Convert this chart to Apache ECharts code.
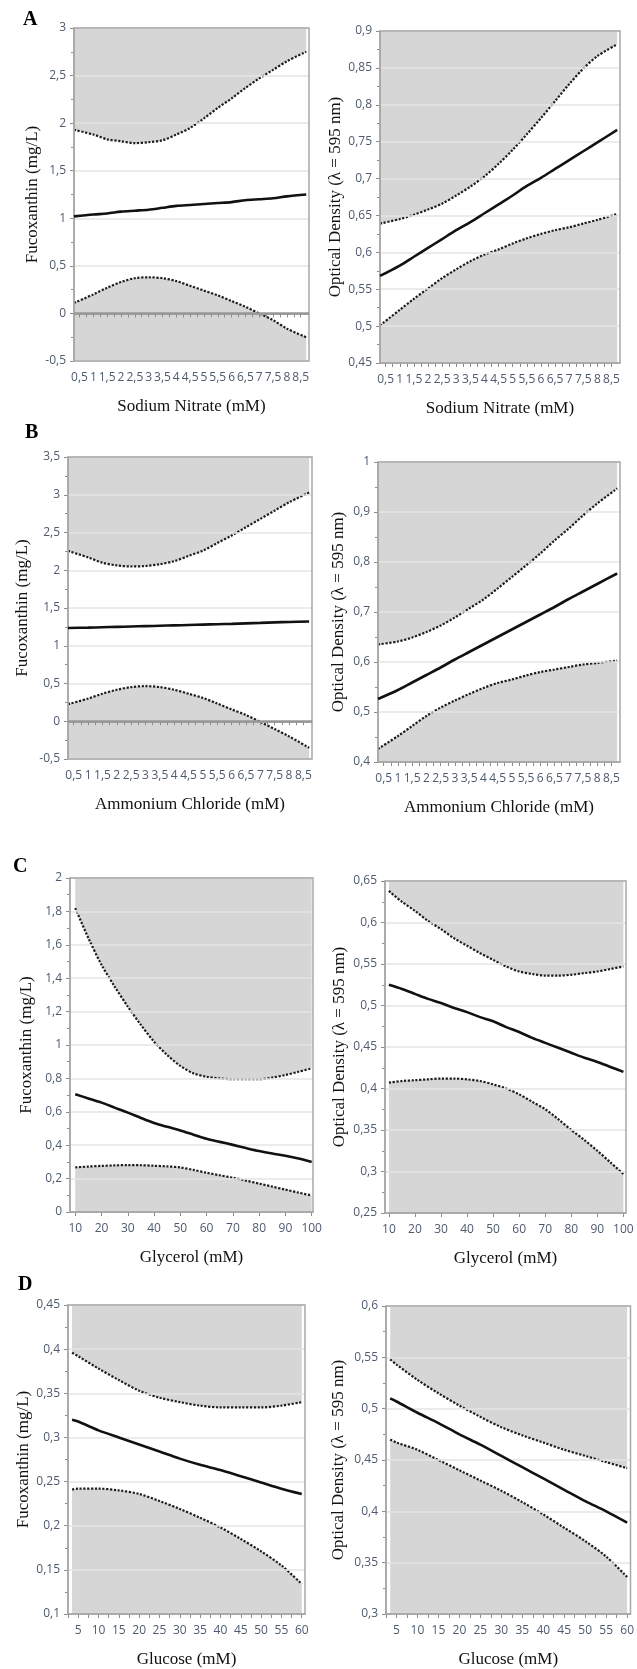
<!DOCTYPE html>
<html>
<head>
<meta charset="utf-8">
<script src="https://cdn.jsdelivr.net/npm/echarts@6/dist/echarts.min.js"></script>
<style>
  html, body { margin: 0; padding: 0; background: #fff; }
  #main { width: 637px; height: 1669px; }
</style>
</head>
<body>
<div id="main"></div>
<script>
// x values (mM)
const nitrateX = [0.3, 1, 1.5, 2, 2.5, 3, 3.5, 4, 4.5, 5, 5.5, 6, 6.5, 7, 7.5, 8, 8.7];
const glycerolX = [10, 15, 20, 25, 30, 35, 40, 45, 50, 55, 60, 65, 70, 75, 80, 85, 90, 95, 100];
const glucoseX = [3.5, 5, 10, 15, 20, 25, 30, 35, 40, 45, 50, 55, 60];

// tick labels / tick marks on the x axes
const nitrateLabels = [0.5, 1, 1.5, 2, 2.5, 3, 3.5, 4, 4.5, 5, 5.5, 6, 6.5, 7, 7.5, 8, 8.5];
const nitrateTicks = [0.5, 0.75, 1, 1.25, 1.5, 1.75, 2, 2.25, 2.5, 2.75, 3, 3.25, 3.5, 3.75, 4, 4.25, 4.5,
  4.75, 5, 5.25, 5.5, 5.75, 6, 6.25, 6.5, 6.75, 7, 7.25, 7.5, 7.75, 8, 8.25, 8.5];
const glycerolLabels = [10, 20, 30, 40, 50, 60, 70, 80, 90, 100];
const glucoseLabels = [5, 10, 15, 20, 25, 30, 35, 40, 45, 50, 55, 60];
const glucoseTicks = [2.5, 5, 7.5, 10, 12.5, 15, 17.5, 20, 22.5, 25, 27.5, 30, 32.5, 35, 37.5, 40, 42.5,
  45, 47.5, 50, 52.5, 55, 57.5, 60];

// A - Sodium Nitrate
const aFucoUpper = [1.93, 1.88, 1.83, 1.81, 1.79, 1.80, 1.82, 1.88, 1.95, 2.05, 2.16, 2.26, 2.37, 2.47, 2.56, 2.65, 2.75];
const aFucoMean  = [1.02, 1.04, 1.05, 1.07, 1.08, 1.09, 1.11, 1.13, 1.14, 1.15, 1.16, 1.17, 1.19, 1.20, 1.21, 1.23, 1.25];
const aFucoLower = [0.11, 0.20, 0.27, 0.33, 0.37, 0.38, 0.37, 0.34, 0.29, 0.24, 0.19, 0.13, 0.07, 0.00, -0.07, -0.16, -0.25];
const aOdUpper = [0.639, 0.645, 0.651, 0.658, 0.666, 0.677, 0.689, 0.703, 0.72, 0.739, 0.76, 0.782, 0.805, 0.828, 0.849, 0.866, 0.882];
const aOdMean  = [0.568, 0.582, 0.594, 0.606, 0.618, 0.63, 0.641, 0.653, 0.665, 0.677, 0.69, 0.701, 0.713, 0.725, 0.737, 0.749, 0.766];
const aOdLower = [0.501, 0.522, 0.537, 0.551, 0.565, 0.577, 0.588, 0.597, 0.604, 0.612, 0.619, 0.625, 0.63, 0.634, 0.639, 0.644, 0.652];

// B - Ammonium Chloride
const bFucoUpper = [2.256, 2.17, 2.1, 2.064, 2.05, 2.056, 2.08, 2.12, 2.19, 2.26, 2.36, 2.46, 2.57, 2.68, 2.79, 2.9, 3.03];
const bFucoMean  = [1.235, 1.24, 1.245, 1.25, 1.255, 1.26, 1.265, 1.27, 1.275, 1.28, 1.285, 1.29, 1.297, 1.303, 1.31, 1.315, 1.322];
const bFucoLower = [0.226, 0.3, 0.365, 0.417, 0.452, 0.465, 0.452, 0.417, 0.365, 0.309, 0.235, 0.157, 0.083, -0.01, -0.104, -0.2, -0.352];
const bOdUpper = [0.635, 0.641, 0.649, 0.66, 0.673, 0.689, 0.707, 0.725, 0.747, 0.77, 0.793, 0.817, 0.843, 0.867, 0.893, 0.917, 0.947];
const bOdMean  = [0.526, 0.544, 0.559, 0.574, 0.589, 0.605, 0.62, 0.635, 0.65, 0.665, 0.68, 0.695, 0.71, 0.726, 0.741, 0.756, 0.777];
const bOdLower = [0.426, 0.452, 0.472, 0.492, 0.509, 0.523, 0.536, 0.548, 0.558, 0.565, 0.573, 0.58, 0.585, 0.59, 0.595, 0.598, 0.603];

// C - Glycerol
const cFucoUpper = [1.82, 1.64, 1.48, 1.35, 1.23, 1.12, 1.02, 0.94, 0.875, 0.83, 0.81, 0.8, 0.795, 0.795, 0.795, 0.805, 0.82, 0.84, 0.86];
const cFucoMean  = [0.705, 0.68, 0.655, 0.625, 0.595, 0.563, 0.533, 0.51, 0.488, 0.463, 0.438, 0.42, 0.402, 0.383, 0.365, 0.35, 0.337, 0.32, 0.3];
const cFucoLower = [0.267, 0.272, 0.276, 0.279, 0.281, 0.28, 0.277, 0.273, 0.267, 0.252, 0.235, 0.22, 0.205, 0.188, 0.17, 0.152, 0.134, 0.116, 0.099];
const cOdUpper = [0.638, 0.625, 0.614, 0.602, 0.592, 0.581, 0.572, 0.563, 0.555, 0.547, 0.541, 0.538, 0.536, 0.536, 0.537, 0.539, 0.541, 0.544, 0.547];
const cOdMean  = [0.525, 0.52, 0.514, 0.508, 0.503, 0.497, 0.492, 0.486, 0.481, 0.474, 0.468, 0.461, 0.455, 0.449, 0.443, 0.437, 0.432, 0.426, 0.42];
const cOdLower = [0.407, 0.409, 0.41, 0.411, 0.412, 0.412, 0.411, 0.409, 0.405, 0.4, 0.393, 0.384, 0.375, 0.363, 0.35, 0.338, 0.325, 0.311, 0.297];

// D - Glucose
const dFucoUpper = [0.396, 0.392, 0.378, 0.365, 0.353, 0.345, 0.34, 0.336, 0.334, 0.334, 0.334, 0.336, 0.34];
const dFucoMean  = [0.32, 0.318, 0.308, 0.3, 0.292, 0.284, 0.276, 0.269, 0.263, 0.256, 0.249, 0.242, 0.236];
const dFucoLower = [0.241, 0.242, 0.242, 0.24, 0.236, 0.228, 0.219, 0.209, 0.198, 0.185, 0.171, 0.155, 0.134];
const dOdUpper = [0.548, 0.543, 0.528, 0.515, 0.503, 0.492, 0.482, 0.474, 0.467, 0.46, 0.454, 0.448, 0.442];
const dOdMean  = [0.51, 0.507, 0.496, 0.486, 0.475, 0.465, 0.454, 0.443, 0.432, 0.421, 0.41, 0.4, 0.389];
const dOdLower = [0.47, 0.467, 0.46, 0.45, 0.44, 0.43, 0.42, 0.409, 0.397, 0.384, 0.371, 0.356, 0.336];

const fucoName = 'Fucoxanthin (mg/L)';
const odName = 'Optical Density (λ = 595 nm)';

// one entry per little chart
const panels = [
  { rect: [74, 28, 235, 333], x: nitrateX, up: aFucoUpper, mean: aFucoMean, low: aFucoLower,
    xr: [0.3, 8.8], xl: nitrateLabels, xt: nitrateTicks, yr: [-0.5, 3, 0.5],
    xName: 'Sodium Nitrate (mM)', yName: fucoName, yGap: 30, zero: true },
  { rect: [380, 31, 240, 332], x: nitrateX, up: aOdUpper, mean: aOdMean, low: aOdLower,
    xr: [0.3, 8.8], xl: nitrateLabels, xt: nitrateTicks, yr: [0.45, 0.9, 0.05],
    xName: 'Sodium Nitrate (mM)', yName: odName, yGap: 36 },
  { rect: [68, 457, 244, 302], x: nitrateX, up: bFucoUpper, mean: bFucoMean, low: bFucoLower,
    xr: [0.3, 8.8], xl: nitrateLabels, xt: nitrateTicks, yr: [-0.5, 3.5, 0.5],
    xName: 'Ammonium Chloride (mM)', yName: fucoName, yGap: 37, zero: true },
  { rect: [378, 462, 242, 300], x: nitrateX, up: bOdUpper, mean: bOdMean, low: bOdLower,
    xr: [0.3, 8.8], xl: nitrateLabels, xt: nitrateTicks, yr: [0.4, 1, 0.1],
    xName: 'Ammonium Chloride (mM)', yName: odName, yGap: 31 },
  { rect: [70, 878, 243, 334], x: glycerolX, up: cFucoUpper, mean: cFucoMean, low: cFucoLower,
    xr: [8, 100.5], xl: glycerolLabels, xt: glycerolLabels, yr: [0, 2, 0.2],
    xName: 'Glycerol (mM)', yName: fucoName, yGap: 35 },
  { rect: [385, 881, 241, 332], x: glycerolX, up: cOdUpper, mean: cOdMean, low: cOdLower,
    xr: [8.5, 101], xl: glycerolLabels, xt: glycerolLabels, yr: [0.25, 0.65, 0.05],
    xName: 'Glycerol (mM)', yName: odName, yGap: 37 },
  { rect: [68, 1305, 237, 313], x: glucoseX, up: dFucoUpper, mean: dFucoMean, low: dFucoLower,
    xr: [2.5, 60.8], xl: glucoseLabels, xt: glucoseTicks, yr: [0.1, 0.45, 0.05],
    xName: 'Glucose (mM)', yName: fucoName, yGap: 36 },
  { rect: [386, 1306, 247, 312], x: glucoseX, up: dOdUpper, mean: dOdMean, low: dOdLower,
    xr: [2.5, 60.8], xl: glucoseLabels, xt: glucoseTicks, yr: [0.3, 0.6, 0.05],
    xName: 'Glucose (mM)', yName: odName, yGap: 39 }
];

const letters = [['A', 23, 10], ['B', 25, 423], ['C', 13, 857], ['D', 18, 1275]];

const fmt = v => String(Math.round(v * 1000) / 1000).replace('.', ',');
const pairs = (xs, ys) => xs.map((x, i) => [x, ys[i]]);

const tickColor = '#4e5a6e';
const fillGray = '#d6d6d6';
const axisGray = '#a2a2a2';

const grids = [], xAxes = [], yAxes = [], series = [];

panels.forEach((p, i) => {
  grids.push({
    left: p.rect[0], top: p.rect[1], width: p.rect[2], height: p.rect[3],
    show: true, backgroundColor: 'transparent', borderColor: '#a8a8a8', borderWidth: 1.5, z: 3
  });

  xAxes.push({
    gridIndex: i, type: 'value', min: p.xr[0], max: p.xr[1], z: 2,
    axisLine: { show: true, lineStyle: { color: axisGray, width: 1.5 } },
    axisTick: { show: true, customValues: p.xt, length: 4, lineStyle: { color: '#8c8c8c' } },
    axisLabel: { customValues: p.xl, formatter: fmt, color: tickColor, fontSize: 12,
      fontFamily: 'Open Sans', margin: 11 },
    splitLine: { show: false },
    name: p.xName, nameLocation: 'middle', nameGap: 37,
    nameTextStyle: { fontFamily: 'Liberation Serif', fontSize: 17, color: '#111' }
  });

  yAxes.push({
    gridIndex: i, type: 'value', min: p.yr[0], max: p.yr[1], interval: p.yr[2], z: 2,
    axisLine: { show: true, lineStyle: { color: axisGray, width: 1.5 } },
    axisTick: { show: true, length: 4, lineStyle: { color: '#8c8c8c' } },
    minorTick: { show: true, splitNumber: 2, length: 3, lineStyle: { color: '#8c8c8c' } },
    splitLine: { show: true, lineStyle: { color: '#e4e4e4', width: 1.5 } },
    axisLabel: { formatter: fmt, color: tickColor, fontSize: 12, fontFamily: 'Open Sans', margin: 8 },
    name: p.yName, nameLocation: 'middle', nameGap: p.yGap,
    nameTextStyle: { fontFamily: 'Liberation Serif', fontSize: 17, color: '#111' }
  });

  const dotted = { type: [2.2, 1.6], width: 2.2, color: '#1c1c1c' };

  // upper confidence limit, shaded up to the top of the frame
  series.push({
    type: 'line', xAxisIndex: i, yAxisIndex: i, data: pairs(p.x, p.up),
    showSymbol: false, smooth: 0.3, z: 1, lineStyle: dotted,
    areaStyle: { origin: 'end', color: fillGray, opacity: 1 }
  });
  // lower confidence limit, shaded down to the bottom of the frame
  series.push({
    type: 'line', xAxisIndex: i, yAxisIndex: i, data: pairs(p.x, p.low),
    showSymbol: false, smooth: 0.3, z: 1, lineStyle: dotted,
    areaStyle: { origin: 'start', color: fillGray, opacity: 1 }
  });
  // predicted value
  const mean = {
    type: 'line', xAxisIndex: i, yAxisIndex: i, data: pairs(p.x, p.mean),
    showSymbol: false, smooth: 0.3, z: 5,
    lineStyle: { width: 2.6, color: '#111' }
  };
  if (p.zero) {
    mean.markLine = {
      silent: true, symbol: ['none', 'none'], label: { show: false },
      lineStyle: { color: '#979797', width: 2.5, type: 'solid' },
      data: [{ yAxis: 0 }]
    };
  }
  series.push(mean);
});

const chart = echarts.init(document.getElementById('main'));
chart.setOption({
  animation: false,
  backgroundColor: '#fff',
  grid: grids,
  xAxis: xAxes,
  yAxis: yAxes,
  series: series,
  graphic: letters.map(l => ({
    type: 'text', left: l[1], top: l[2],
    style: { text: l[0], font: 'bold 20px "Liberation Serif"', fill: '#000' }
  }))
});
</script>
</body>
</html>
